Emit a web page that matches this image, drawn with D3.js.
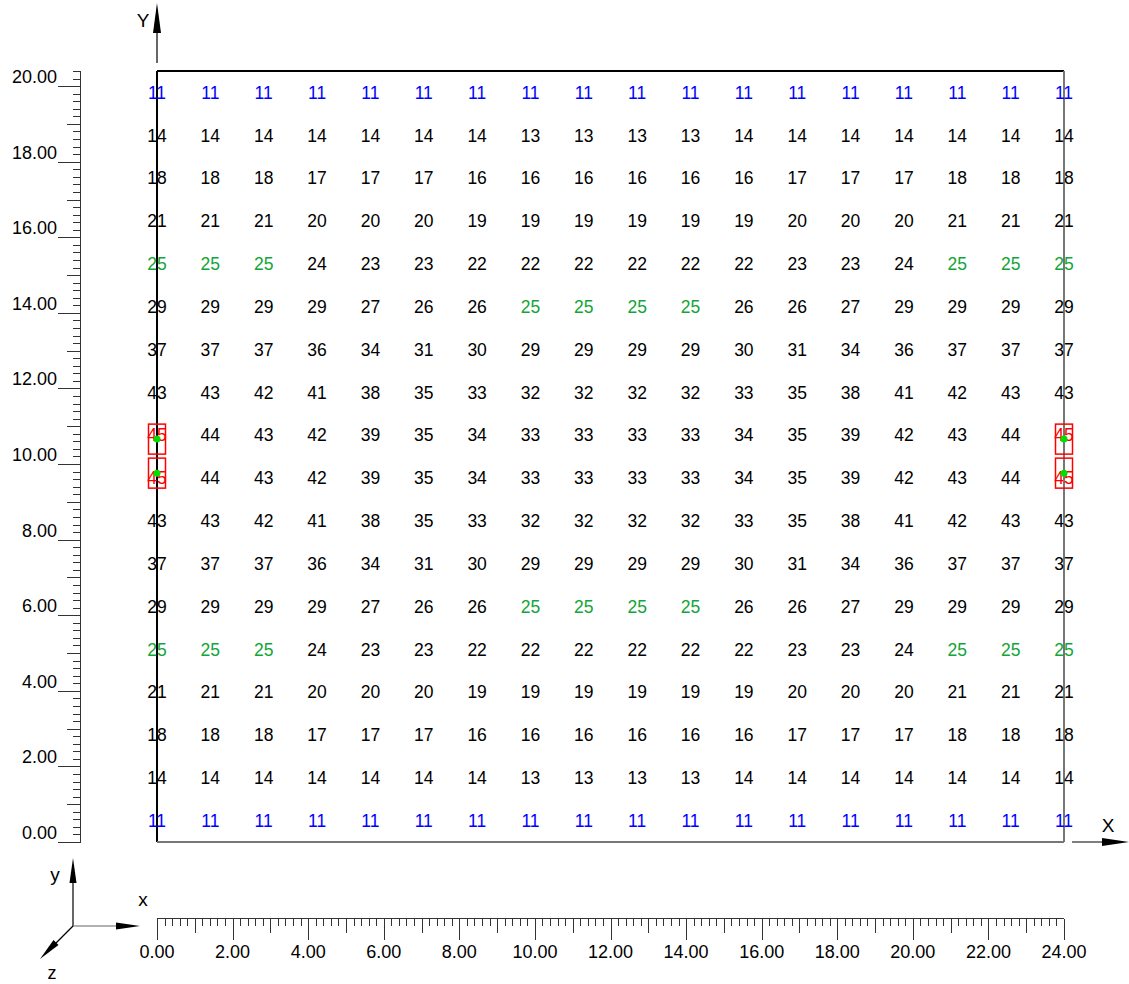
<!DOCTYPE html>
<html>
<head>
<meta charset="utf-8">
<script src="https://cdn.jsdelivr.net/npm/d3@7"></script>
<style>
  body { margin: 0; background: #fff; }
  text { font-family: "Liberation Sans", Arial, sans-serif; }
</style>
</head>
<body>
<div id="chart"></div>
<script>
// grid values, top row first
const rowValues = [
  [11,11,11,11,11,11,11,11,11,11,11,11,11,11,11,11,11,11],
  [14,14,14,14,14,14,14,13,13,13,13,14,14,14,14,14,14,14],
  [18,18,18,17,17,17,16,16,16,16,16,16,17,17,17,18,18,18],
  [21,21,21,20,20,20,19,19,19,19,19,19,20,20,20,21,21,21],
  [25,25,25,24,23,23,22,22,22,22,22,22,23,23,24,25,25,25],
  [29,29,29,29,27,26,26,25,25,25,25,26,26,27,29,29,29,29],
  [37,37,37,36,34,31,30,29,29,29,29,30,31,34,36,37,37,37],
  [43,43,42,41,38,35,33,32,32,32,32,33,35,38,41,42,43,43],
  [45,44,43,42,39,35,34,33,33,33,33,34,35,39,42,43,44,45],
  [45,44,43,42,39,35,34,33,33,33,33,34,35,39,42,43,44,45],
  [43,43,42,41,38,35,33,32,32,32,32,33,35,38,41,42,43,43],
  [37,37,37,36,34,31,30,29,29,29,29,30,31,34,36,37,37,37],
  [29,29,29,29,27,26,26,25,25,25,25,26,26,27,29,29,29,29],
  [25,25,25,24,23,23,22,22,22,22,22,22,23,23,24,25,25,25],
  [21,21,21,20,20,20,19,19,19,19,19,19,20,20,20,21,21,21],
  [18,18,18,17,17,17,16,16,16,16,16,16,17,17,17,18,18,18],
  [14,14,14,14,14,14,14,13,13,13,13,14,14,14,14,14,14,14],
  [11,11,11,11,11,11,11,11,11,11,11,11,11,11,11,11,11,11]
];
const nCols = 18;
const nRows = 18;
const xMax = 24;
const yMax = 20.4;
const minValue = 11;
const contourValue = 25;
const maxValue = 45;
// marked maxima (data coordinates)
const maxPoints = [
  { x: 0, y: 10.66 }, { x: 0, y: 9.76 },
  { x: 24, y: 10.66 }, { x: 24, y: 9.76 }
];
const xTickLabels = d3.range(0, 25, 2);
const yTickLabels = d3.range(0, 21, 2);

const W = 1129, H = 984;
const svg = d3.select("#chart").append("svg")
  .attr("width", W).attr("height", H);

const x = d3.scaleLinear().domain([0, xMax]).range([157, 1064]);
const y = d3.scaleLinear().domain([0, yMax]).range([842, 71]);

const colX = i => i * xMax / (nCols - 1);
const rowY = r => (nRows - r - 0.5) * yMax / nRows;

// frame
const frame = svg.append("g").attr("stroke-width", 1.2).attr("shape-rendering", "crispEdges");
frame.append("line").attr("x1", x(0)).attr("x2", x(0)).attr("y1", y(0)).attr("y2", y(yMax)).attr("stroke", "#000");
frame.append("line").attr("x1", x(0)).attr("x2", x(xMax)).attr("y1", y(yMax)).attr("y2", y(yMax)).attr("stroke", "#000");
frame.append("line").attr("x1", x(xMax)).attr("x2", x(xMax)).attr("y1", y(0)).attr("y2", y(yMax)).attr("stroke", "#777");
frame.append("line").attr("x1", x(0)).attr("x2", x(xMax)).attr("y1", y(0)).attr("y2", y(0)).attr("stroke", "#777");

// axis arrows
const arrows = svg.append("g");
arrows.append("line").attr("x1", x(0)).attr("x2", x(0)).attr("y1", 63).attr("y2", 12)
  .attr("stroke", "#000").attr("stroke-width", 1.2);
arrows.append("path").attr("d", `M${x(0)},3 L${x(0) - 4},33 L${x(0) + 4},33 Z`).attr("fill", "#000");
arrows.append("text").attr("x", 143).attr("y", 27).attr("text-anchor", "middle")
  .style("font-size", "19px").text("Y");
arrows.append("line").attr("x1", 1072).attr("x2", 1110).attr("y1", y(0)).attr("y2", y(0))
  .attr("stroke", "#000").attr("stroke-width", 1.2);
arrows.append("path").attr("d", `M1129,${y(0)} L1102,${y(0) - 4} L1102,${y(0) + 4} Z`).attr("fill", "#000");
arrows.append("text").attr("x", 1108).attr("y", 832).attr("text-anchor", "middle")
  .style("font-size", "19px").text("X");

// grid values
const cells = [];
rowValues.forEach((row, r) => row.forEach((v, c) => cells.push({ r, c, v })));
const colorOf = v => v === minValue ? "#0000ff" : v === contourValue ? "#12a538" : v === maxValue ? "#ff0000" : "#000";

svg.append("g").selectAll("text").data(cells).enter().append("text")
  .attr("x", d => x(colX(d.c)))
  .attr("y", d => y(rowY(d.r)))
  .attr("dy", "0.36em")
  .attr("text-anchor", "middle")
  .style("font-size", "17.5px")
  .style("fill", d => colorOf(d.v))
  .text(d => d.v);

// marked maxima
const marks = svg.append("g");
marks.selectAll("rect").data(maxPoints).enter().append("rect")
  .attr("x", d => x(d.x) - 8.5).attr("y", d => y(d.y) - 15)
  .attr("width", 17).attr("height", 30)
  .attr("fill", "none").attr("stroke", "#ff0000").attr("stroke-width", 1.5);
marks.selectAll("circle").data(maxPoints).enter().append("circle")
  .attr("cx", d => x(d.x)).attr("cy", d => y(d.y)).attr("r", 3.5)
  .attr("fill", "#00e000");

// y ruler
const yr = svg.append("g").attr("stroke", "#333").attr("stroke-width", 1).attr("shape-rendering", "crispEdges");
const rulerX = 80.5;
yr.append("line").attr("x1", rulerX).attr("x2", rulerX).attr("y1", y(0)).attr("y2", y(yMax));
const yTicks = d3.range(0, Math.round(yMax / 0.2) + 1);
yr.selectAll("line.t").data(yTicks).enter().append("line").attr("class", "t")
  .attr("x1", i => i % 10 === 0 ? 58 : i % 5 === 0 ? 67 : 73)
  .attr("x2", rulerX)
  .attr("y1", i => Math.round(y(i * 0.2)) + 0.5)
  .attr("y2", i => Math.round(y(i * 0.2)) + 0.5);
svg.append("g").selectAll("text").data(yTickLabels).enter().append("text")
  .attr("x", 57).attr("y", d => y(d) - 3)
  .attr("text-anchor", "end")
  .style("font-size", "18px")
  .text(d => d.toFixed(2));

// x ruler
const xr = svg.append("g").attr("stroke", "#333").attr("stroke-width", 1).attr("shape-rendering", "crispEdges");
const rulerY = 918.5;
xr.append("line").attr("x1", x(0)).attr("x2", x(xMax)).attr("y1", rulerY).attr("y2", rulerY);
const xTicks = d3.range(0, Math.round(xMax / 0.2) + 1);
xr.selectAll("line.t").data(xTicks).enter().append("line").attr("class", "t")
  .attr("x1", i => Math.round(x(i * 0.2)) + 0.5)
  .attr("x2", i => Math.round(x(i * 0.2)) + 0.5)
  .attr("y1", rulerY)
  .attr("y2", i => i % 10 === 0 ? 940 : i % 5 === 0 ? 933 : 926);
svg.append("g").selectAll("text").data(xTickLabels).enter().append("text")
  .attr("x", d => x(d)).attr("y", 958)
  .attr("text-anchor", "middle")
  .style("font-size", "18px")
  .text(d => d.toFixed(2));

// orientation triad
const tri = svg.append("g");
const ox = 73, oy = 926;
tri.append("line").attr("x1", ox).attr("y1", oy).attr("x2", ox).attr("y2", 875).attr("stroke", "#000").attr("stroke-width", 1.2);
tri.append("path").attr("d", `M${ox},858 L${ox - 3.5},883 L${ox + 3.5},883 Z`).attr("fill", "#000");
tri.append("line").attr("x1", ox).attr("y1", oy).attr("x2", 125).attr("y2", oy).attr("stroke", "#666").attr("stroke-width", 1.2);
tri.append("path").attr("d", `M140,${oy} L116,${oy - 3.5} L116,${oy + 3.5} Z`).attr("fill", "#000");
tri.append("line").attr("x1", ox).attr("y1", oy).attr("x2", 50).attr("y2", 949).attr("stroke", "#000").attr("stroke-width", 1.2);
tri.append("path").attr("d", "M40,959 L53.5,940 L58.5,945 Z").attr("fill", "#000");
tri.append("text").attr("x", 55).attr("y", 881).attr("text-anchor", "middle").style("font-size", "19px").text("y");
tri.append("text").attr("x", 143).attr("y", 906).attr("text-anchor", "middle").style("font-size", "19px").text("x");
tri.append("text").attr("x", 52).attr("y", 979).attr("text-anchor", "middle").style("font-size", "18px").text("z");
</script>
</body>
</html>
